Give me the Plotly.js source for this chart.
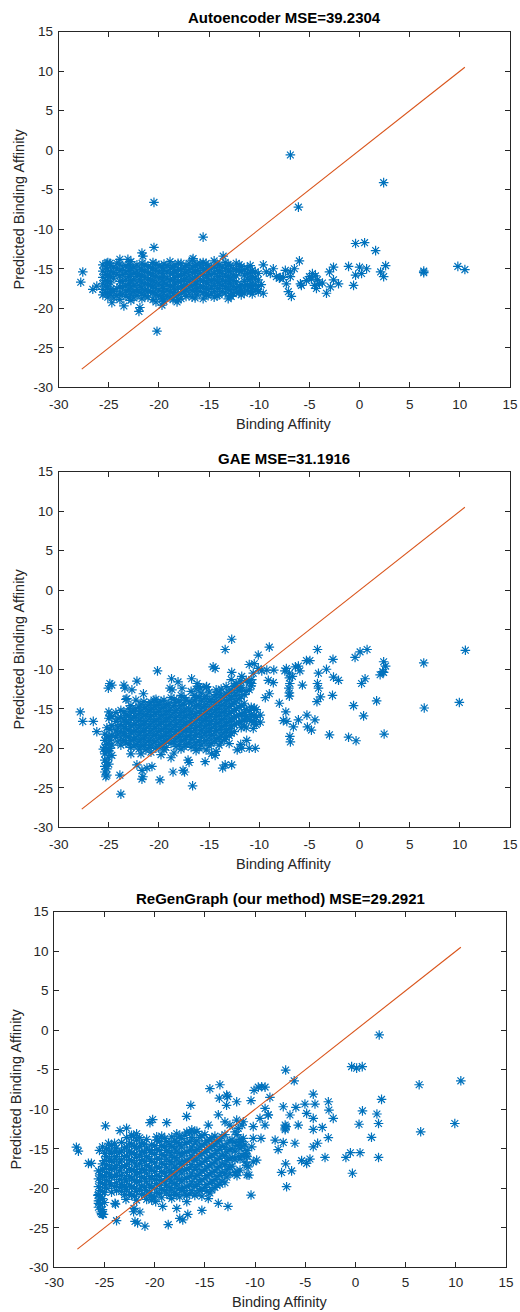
<!DOCTYPE html>
<html><head><meta charset="utf-8">
<script src="https://cdn.plot.ly/plotly-3.0.1.min.js"></script>
<style>html,body{margin:0;padding:0;background:#fff}#chart{width:520px;height:1312px}</style>
</head><body><div id="chart"></div>
<script>
const plotTitles = ["Autoencoder MSE=39.2304", "GAE MSE=31.1916", "ReGenGraph (our method) MSE=29.2921"];
const xTitle = "Binding Affinity";
const yTitle = "Predicted Binding Affinity";
const xTicks = [-30, -25, -20, -15, -10, -5, 0, 5, 10, 15];
const yTicks = [-30, -25, -20, -15, -10, -5, 0, 5, 10, 15];
const diag = [-27.7, 10.5];

// Autoencoder: dense columns [x, [y...]] and single points [x, y]
const aeCore = [
 [-25.6,[-14.5,-15.3,-16.1,-16.9,-17.6,-18.3]],[-25.3,[-14.9,-15.7,-16.5,-17.2,-18.0]],
 [-25.1,[-14.2,-15.0,-15.8,-16.6,-17.3,-18.0,-18.6]],[-24.8,[-14.6,-15.4,-16.0,-16.8,-17.6,-18.3]],
 [-24.5,[-14.8,-15.5,-16.2,-17.9,-18.7]],[-24.2,[-14.3,-15.0,-15.7,-17.5,-18.4]],
 [-23.9,[-14.4,-15.2,-15.9,-16.6,-17.3,-18.1,-18.9]],[-23.6,[-14.9,-15.7,-16.6,-17.4,-18.2]],
 [-23.3,[-14.6,-15.4,-16.3,-17.1,-17.8,-18.5]],[-23.0,[-14.5,-15.2,-16.0,-16.9,-17.7,-18.6]],
 [-22.8,[-14.1,-14.9,-15.7,-16.5,-17.3,-18.2,-19.0]],[-22.5,[-14.8,-15.6,-16.4,-17.1,-17.9,-18.7]],
 [-22.2,[-14.5,-15.3,-16.0,-16.8,-17.6,-18.4]],[-21.9,[-14.9,-15.7,-16.4,-17.2,-18.0]],
 [-21.7,[-14.3,-15.1,-15.9,-16.7,-17.4,-18.1,-18.8]],[-21.4,[-14.5,-15.3,-16.1,-16.9,-17.7,-18.4]],
 [-21.1,[-14.7,-15.5,-16.3,-17.0,-17.8,-18.6]],[-20.8,[-14.8,-15.6,-16.4,-17.1,-17.9]],
 [-20.6,[-14.2,-15.0,-15.8,-16.5,-17.2,-18.0,-18.9]],[-20.3,[-14.4,-15.2,-16.0,-16.8,-17.5,-18.3]],
 [-20.0,[-14.6,-15.4,-16.1,-16.9,-17.7,-18.4]],[-19.7,[-14.8,-15.6,-16.4,-17.2,-17.9,-18.8]],
 [-19.5,[-14.4,-15.2,-16.0,-16.7,-17.5,-18.2,-19.1]],[-19.2,[-14.6,-15.4,-16.2,-17.0,-17.7,-18.5]],
 [-18.9,[-14.1,-14.9,-15.6,-16.4,-17.2,-17.9,-18.6]],[-18.6,[-14.8,-15.6,-16.4,-17.2,-18.0]],
 [-18.4,[-14.5,-15.3,-16.1,-16.8,-17.6,-18.4]],[-18.1,[-14.3,-15.1,-15.9,-16.6,-17.4,-18.2,-18.9]],
 [-17.8,[-14.3,-15.1,-15.8,-16.6,-17.3,-18.1,-18.8]],[-17.5,[-14.8,-15.6,-16.4,-17.2,-17.9]],
 [-17.3,[-14.6,-15.4,-16.2,-17.0,-17.7,-18.5]],[-17.0,[-14.3,-15.1,-15.9,-16.6,-17.4,-18.2]],
 [-16.7,[-13.9,-14.8,-15.5,-16.3,-17.1,-17.8,-18.6]],[-16.4,[-14.6,-15.4,-16.2,-17.0,-17.8,-18.7]],
 [-16.2,[-14.4,-15.2,-16.0,-16.7,-17.5,-18.3]],[-15.9,[-14.8,-15.6,-16.4,-17.2,-17.9]],
 [-15.6,[-14.2,-15.0,-15.7,-16.5,-17.3,-18.0,-18.8]],[-15.3,[-14.3,-15.1,-15.9,-16.7,-17.5,-18.3]],
 [-15.1,[-14.6,-15.4,-16.2,-16.9,-17.6,-18.4]],[-14.8,[-14.9,-15.7,-16.5,-17.3,-18.1]],
 [-14.5,[-14.0,-14.8,-15.6,-16.4,-17.1,-17.9,-18.6]],[-14.2,[-14.4,-15.2,-16.0,-16.7,-17.5,-18.4]],
 [-14.0,[-14.5,-15.3,-16.0,-16.8,-17.5,-18.3]],[-13.7,[-14.8,-15.6,-16.4,-17.1,-17.9]],
 [-13.4,[-14.2,-15.0,-15.8,-16.6,-17.3,-18.1]],[-13.1,[-14.5,-15.3,-16.1,-16.9,-17.6]],
 [-12.9,[-14.6,-15.4,-16.2,-16.9,-17.7,-18.4]],[-12.6,[-15.0,-15.8,-16.5,-17.3,-18.1]],
 [-12.3,[-14.3,-15.1,-15.9,-16.7,-17.4,-18.0]],[-12.0,[-14.5,-15.2,-17.3,-18.0]],
 [-11.8,[-14.7,-15.4,-17.0,-17.7,-18.3]],[-11.5,[-15.1,-15.8,-16.6,-17.4,-18.1]],
 [-11.2,[-14.9,-15.6,-16.3,-17.1,-17.8]],[-10.9,[-14.6,-15.5,-16.3,-17.1,-17.9]],
 [-10.7,[-15.2,-16.0,-16.8,-17.5,-18.2]],[-10.4,[-15.4,-16.2,-17.0,-17.7]],
 [-10.1,[-15.6,-16.4,-17.2,-17.9]]
];
const aeSparse = [
 [-6.9,-0.6],[2.4,-4.1],[-20.5,-6.6],[-6.1,-7.2],[-15.6,-11.0],[-20.5,-12.3],[-0.4,-11.8],[0.5,-11.7],
 [1.6,-12.7],[-6.0,-14.0],[2.6,-14.6],[-1.1,-14.7],[6.4,-15.5],[6.4,-15.3],[9.8,-14.7],[10.5,-15.1],
 [2.1,-15.4],[2.4,-16.0],[0.0,-14.8],[0.7,-15.0],[0.2,-15.6],[-0.4,-15.8],[-0.6,-17.1],[-2.6,-14.8],
 [-3.0,-15.4],[-2.6,-16.4],[-2.1,-16.9],[-2.9,-17.3],[-3.3,-18.1],[-4.7,-15.6],[-5.0,-16.0],[-4.2,-16.4],
 [-4.0,-16.9],[-4.5,-17.1],[-4.3,-17.5],[-5.3,-16.5],[-5.8,-17.1],[-5.9,-16.9],[-3.7,-16.8],[-4.4,-15.9],
 [-4.8,-16.3],[-6.9,-16.0],[-7.3,-16.9],[-7.1,-17.9],[-6.8,-18.5],[-6.5,-15.0],[-6.9,-15.4],[-7.4,-15.2],
 [-8.6,-15.0],[-8.9,-15.6],[-8.3,-16.0],[-7.9,-16.1],[-9.3,-15.4],[-9.6,-14.5],[-8.0,-16.2],[-7.6,-16.1],
 [-27.6,-15.4],[-27.8,-16.7],[-26.6,-17.6],[-26.2,-17.2],[-21.7,-13.0],[-21.6,-13.4],[-23.1,-13.8],
 [-23.9,-13.8],[-25.2,-14.3],[-24.9,-14.3],[-20.2,-22.9],[-22.0,-20.4],[-21.9,-19.9],[-24.7,-19.3],
 [-23.5,-19.7],[-13.6,-13.4],[-16.6,-13.7],[-15.9,-14.3],[-19.6,-18.8],[-18.6,-18.9],[-19.7,-19.6],
 [-18.2,-19.2],[-20.3,-19.2],[-12.8,-18.5],[-13.1,-18.8],[-9.6,-18.1],[-10.2,-17.6],[-9.8,-17.0]
];

// GAE
const gaeCore = [
 [-25.4,[-18.2,-19.0,-19.9,-20.7,-21.5,-22.3,-23.0]],[-25.2,[-17.4,-18.7,-19.5,-20.4,-21.8,-22.6,-23.4]],
 [-25.0,[-15.4,-16.2,-18.5,-19.4,-20.3,-21.2,-22.0]],[-24.9,[-15.9,-17.6,-19.0,-20.0]],
 [-24.7,[-16.0,-17.1,-18.4,-19.6,-20.9]],[-24.3,[-15.5,-16.6,-17.8,-18.6]],[-24.1,[-16.2,-17.3,-18.2,-19.2]],
 [-23.8,[-15.2,-16.1,-17.0,-17.9,-18.7,-19.6]],[-23.5,[-15.4,-16.4,-17.3,-18.1,-19.0]],
 [-23.3,[-13.8,-15.8,-16.7,-17.5,-18.4,-19.3]],[-23.0,[-15.0,-15.9,-16.8,-17.7,-18.6,-19.5]],
 [-22.8,[-14.6,-15.4,-16.3,-17.2,-18.1,-19.0,-19.9]],[-22.5,[-15.3,-16.1,-17.0,-17.9,-18.8,-19.7]],
 [-22.3,[-13.9,-15.0,-15.9,-16.8,-17.7,-18.6,-19.5]],[-22.0,[-14.8,-15.6,-16.5,-17.4,-18.3,-19.2,-20.1]],
 [-21.8,[-14.4,-15.3,-16.2,-17.1,-18.0,-18.9,-19.8,-20.7]],[-21.5,[-14.1,-15.0,-15.9,-16.9,-17.8,-18.7,-19.6]],
 [-21.3,[-14.8,-15.7,-16.6,-17.5,-18.4,-19.3,-20.2]],[-21.0,[-14.5,-15.4,-16.3,-17.2,-18.1,-19.0,-19.9]],
 [-20.8,[-14.2,-15.1,-16.0,-16.9,-17.8,-18.7,-19.6,-20.5]],[-20.5,[-13.9,-14.8,-15.7,-16.6,-17.5,-18.4,-19.3]],
 [-20.3,[-13.8,-14.6,-15.5,-16.4,-17.3,-18.2,-19.1,-20.0]],[-20.0,[-14.4,-15.3,-16.2,-17.0,-17.9,-18.8,-19.8]],
 [-19.8,[-14.1,-15.0,-15.9,-16.8,-17.7,-18.6,-19.5,-20.8]],[-19.5,[-13.9,-14.8,-15.7,-16.6,-17.5,-18.4,-19.3,-20.2]],
 [-19.3,[-14.5,-15.4,-16.3,-17.2,-18.1,-19.0,-19.9]],[-19.0,[-14.3,-15.2,-16.1,-17.0,-17.9,-18.8]],
 [-18.8,[-13.6,-14.9,-15.8,-16.7,-17.6,-18.5,-19.4,-21.2]],[-18.5,[-13.8,-14.6,-15.5,-16.4,-17.3,-18.2,-19.2,-20.6]],
 [-18.3,[-14.2,-15.2,-16.1,-17.0,-17.9,-18.8,-19.8]],[-18.0,[-14.0,-14.9,-15.8,-16.7,-17.6,-18.5,-19.5]],
 [-17.8,[-13.3,-14.6,-15.5,-16.4,-17.3,-18.2,-19.1,-20.1]],[-17.5,[-13.6,-14.4,-15.3,-16.1,-17.0,-17.9,-18.9,-19.8]],
 [-17.3,[-13.9,-15.0,-15.9,-16.8,-17.7,-18.6,-19.5]],[-17.0,[-14.1,-15.0,-15.7,-16.6,-17.5,-18.4,-19.3]],
 [-16.8,[-12.8,-14.3,-15.3,-16.2,-17.1,-18.0,-18.9,-19.9]],[-16.5,[-13.3,-14.0,-14.9,-15.9,-16.8,-17.7,-18.6,-19.6]],
 [-16.3,[-12.5,-13.6,-14.6,-15.6,-16.5,-17.4,-18.3,-19.3,-20.3]],[-16.0,[-12.2,-13.5,-14.5,-15.4,-16.3,-17.2,-18.1,-19.1,-20.0]],
 [-15.8,[-13.0,-14.0,-15.0,-15.9,-16.8,-17.7,-18.6,-19.6]],[-15.5,[-13.7,-14.7,-15.6,-16.5,-17.4,-18.3,-19.3]],
 [-15.3,[-12.3,-13.4,-14.4,-15.3,-16.2,-17.1,-18.0,-19.0,-20.2]],[-15.0,[-12.9,-14.1,-15.1,-16.0,-16.9,-17.8,-18.7,-19.7]],
 [-14.8,[-13.8,-14.8,-15.7,-16.6,-17.5,-18.4,-19.4]],[-14.5,[-13.5,-14.5,-15.4,-16.3,-17.2,-18.1,-19.1]],
 [-14.3,[-12.6,-13.2,-14.2,-15.1,-16.0,-16.9,-17.8,-18.8,-20.4]],[-14.0,[-12.9,-13.9,-14.9,-15.8,-16.7,-17.6,-18.6,-19.6]],
 [-13.8,[-12.5,-13.6,-14.6,-15.5,-16.4,-17.3,-18.3,-19.2]],[-13.5,[-13.3,-14.3,-15.3,-16.2,-17.1,-18.0,-18.9]],
 [-13.3,[-12.2,-13.1,-14.0,-15.0,-15.9,-16.8,-17.7,-18.6]],[-13.0,[-12.9,-13.8,-14.7,-15.6,-16.6,-17.5,-18.4,-19.4]],
 [-12.8,[-12.6,-13.5,-14.4,-15.4,-16.3,-17.2,-18.1]],[-12.5,[-12.2,-13.3,-14.3,-15.2,-16.1,-17.0,-17.9]],
 [-12.3,[-11.8,-13.0,-14.0,-15.0,-15.9,-16.8]],[-12.0,[-12.7,-13.7,-14.8,-15.8,-16.8]],
 [-11.8,[-12.4,-13.5,-14.6,-15.6,-16.6,-17.4]],[-11.5,[-13.2,-14.3,-15.5,-16.4,-17.2]],
 [-11.3,[-11.4,-12.8,-15.1,-16.0]],[-11.0,[-11.7,-12.6,-15.2,-16.3]],[-10.8,[-12.1,-14.8,-15.7,-16.6]],
 [-10.5,[-14.9,-15.8,-16.6]],[-10.3,[-15.1,-16.1,-17.0]],[-9.9,[-15.8,-16.7]]
];
const gaeSparse = [
 [-12.75,-6.2],[-13.4,-7.5],[-9.0,-7.2],[-10.1,-8.2],[-10.5,-9.3],[-4.2,-7.5],[-4.95,-8.9],[-5.3,-8.9],
 [-0.45,-8.5],[0.05,-7.8],[0.75,-7.5],[2.4,-9.05],[2.6,-9.6],[2.4,-10.4],[2.05,-10.7],[2.3,-10.3],
 [6.4,-9.2],[10.55,-7.6],[9.95,-14.2],[6.45,-14.9],[2.45,-18.2],[1.7,-14.0],[0.4,-15.9],[-0.6,-14.6],
 [-0.35,-19.05],[-1.1,-18.6],[-3.0,-18.3],[0.2,-11.8],[0.55,-11.2],[-2.65,-8.75],[-3.3,-10.0],[-2.6,-11.0],
 [-2.1,-11.4],[-2.7,-13.3],[-4.1,-10.5],[-4.2,-11.8],[-4.1,-12.4],[-3.9,-13.5],[-4.25,-14.1],[-4.45,-16.4],
 [-4.8,-17.7],[-5.25,-15.8],[-5.2,-17.3],[-5.7,-12.0],[-5.95,-10.2],[-6.1,-9.6],[-6.4,-9.7],[-6.6,-17.3],
 [-6.1,-16.4],[-6.95,-18.5],[-6.9,-19.2],[-7.3,-9.9],[-7.0,-10.5],[-7.0,-11.1],[-6.95,-11.8],[-7.05,-12.4],
 [-7.0,-13.0],[-7.0,-13.4],[-7.45,-10.2],[-6.7,-10.9],[-7.35,-15.4],[-7.6,-16.5],[-7.25,-16.6],[-8.0,-14.3],
 [-8.6,-11.7],[-8.55,-10.1],[-9.25,-10.1],[-9.4,-13.6],[-9.0,-13.1],[-10.4,-20.0],[-11.25,-19.0],[-11.75,-20.0],
 [-11.3,-17.4],[-11.4,-16.2],[-10.6,-17.5],[-12.75,-22.1],[-13.65,-22.5],[-14.4,-20.9],[-14.75,-20.7],
 [-15.4,-21.7],[-16.65,-24.75],[-17.1,-21.5],[-17.0,-21.8],[-17.6,-22.8],[-17.45,-23.0],[-18.6,-23.0],
 [-19.9,-24.0],[-21.6,-23.6],[-21.7,-23.9],[-21.7,-22.8],[-21.2,-22.5],[-20.7,-22.3],[-22.2,-22.1],
 [-23.8,-25.8],[-23.9,-23.4],[-25.3,-23.6],[-25.55,-20.1],[-22.8,-20.7],[-27.85,-15.4],[-27.6,-16.6],
 [-26.55,-16.6],[-26.2,-17.9],[-25.05,-12.4],[-24.9,-11.8],[-24.7,-12.0],[-23.5,-12.0],[-23.4,-12.4],
 [-22.7,-12.6],[-22.2,-11.5],[-21.55,-13.1],[-23.2,-13.7],[-20.15,-10.2],[-18.75,-11.2],[-18.1,-11.6],
 [-16.75,-11.2],[-14.6,-9.7],[-14.4,-9.9],[-12.75,-10.4],[-11.0,-9.4],[-10.1,-9.9],[-11.75,-10.9],
 [-10.75,-11.8],[-10.6,-10.5],[-9.75,-10.2],[-12.8,-11.3],[-11.9,-11.5],[-12.45,-12.1],[-11.85,-12.3],
 [-10.75,-11.3],[-9.1,-11.4],[-11.85,-19.5],[-12.2,-20.2],[-11.0,-20.0],[-13.4,-22.1],[-17.7,-12.4],
 [-16.2,-11.8],[-15.9,-12.4],[-15.25,-12.2],[-18.9,-12.4],[-18.7,-12.6]
];

// ReGenGraph
const rgCore = [
 [-25.6,[-17.8,-18.8,-19.8,-20.8,-21.6,-22.4]],[-25.4,[-18.3,-19.3,-20.3,-21.1,-22.0,-23.0]],
 [-25.2,[-16.9,-17.6,-18.5,-19.4,-20.4,-21.3,-22.7,-23.3]],[-25.0,[-15.6,-16.5,-17.5,-18.5,-19.5,-20.5,-21.8]],
 [-24.8,[-15.0,-16.0,-17.0,-18.0,-19.0,-20.0]],[-24.5,[-15.3,-16.3,-17.3,-18.3,-19.3]],
 [-24.3,[-14.6,-15.6,-16.6,-17.6,-18.6,-19.6,-20.5]],[-24.0,[-14.3,-15.3,-16.3,-17.4,-18.5,-19.8]],
 [-23.8,[-14.9,-16.0,-17.1,-18.2,-19.3,-20.3]],[-23.5,[-15.5,-16.7,-17.8,-18.9,-19.9]],
 [-23.3,[-14.2,-15.3,-16.4,-17.4,-18.4,-19.5,-20.4]],[-23.0,[-14.9,-16.0,-17.2,-18.8,-19.8,-20.8]],
 [-22.8,[-13.6,-14.8,-15.9,-17.0,-18.0,-19.1,-20.1]],[-22.5,[-14.3,-15.3,-16.4,-17.5,-18.5,-19.6,-20.6]],
 [-22.3,[-13.3,-14.4,-15.5,-16.5,-17.6,-18.7,-19.8,-20.9]],[-22.0,[-14.7,-15.7,-16.8,-17.9,-19.0,-20.0,-21.0]],
 [-21.8,[-13.9,-15.0,-16.1,-17.2,-18.3,-19.3,-20.4,-21.5]],[-21.5,[-13.6,-14.7,-15.8,-16.9,-18.0,-19.1,-20.1]],
 [-21.3,[-14.3,-15.4,-16.5,-17.6,-18.6,-19.7,-20.8]],[-21.0,[-14.4,-15.5,-16.6,-17.7,-18.8,-19.9,-20.9]],
 [-20.8,[-13.8,-14.9,-16.0,-17.1,-18.1,-19.2,-20.3,-21.4]],[-20.5,[-15.2,-16.3,-17.4,-18.5,-19.6,-20.6]],
 [-20.3,[-14.5,-15.5,-16.6,-17.7,-18.8,-19.9,-21.0]],[-20.0,[-14.6,-15.7,-16.8,-17.9,-18.9,-20.0,-21.1]],
 [-19.8,[-13.9,-15.1,-16.2,-17.3,-18.4,-19.4,-20.5]],[-19.5,[-14.1,-15.2,-16.3,-17.4,-18.5,-19.6,-20.7]],
 [-19.3,[-13.4,-14.6,-15.7,-16.8,-17.9,-19.0,-20.1,-21.2]],[-19.0,[-13.7,-14.8,-15.9,-17.0,-18.1,-19.2,-20.3]],
 [-18.8,[-14.1,-15.2,-16.3,-17.4,-18.5,-19.6,-20.6]],[-18.5,[-14.4,-15.5,-16.6,-17.7,-18.8,-19.9,-20.9]],
 [-18.3,[-13.5,-14.7,-15.8,-16.9,-18.0,-19.1,-20.2,-21.3]],[-18.0,[-13.9,-15.0,-16.1,-17.2,-18.3,-19.4,-20.5]],
 [-17.8,[-13.1,-14.2,-15.3,-16.4,-17.5,-18.6,-19.7,-20.8]],[-17.5,[-13.4,-14.5,-15.6,-16.7,-17.8,-18.9,-20.0,-21.1]],
 [-17.3,[-13.7,-14.8,-15.9,-17.0,-18.1,-19.2,-20.3]],[-17.0,[-13.3,-14.4,-15.5,-16.6,-17.7,-18.8,-19.9,-20.6]],
 [-16.8,[-12.9,-14.2,-15.4,-16.5,-17.6,-18.7,-19.8,-20.9]],[-16.5,[-13.0,-14.1,-15.2,-16.3,-17.4,-18.5,-19.6,-20.7]],
 [-16.3,[-12.6,-13.6,-14.8,-15.9,-17.0,-18.1,-19.2,-20.3]],[-16.0,[-12.9,-14.3,-15.4,-16.5,-17.6,-18.7,-19.8,-20.9]],
 [-15.8,[-12.8,-14.0,-15.1,-16.2,-17.3,-18.4,-19.5,-20.6]],[-15.5,[-13.6,-14.8,-15.9,-17.0,-18.1,-19.2,-20.3]],
 [-15.3,[-13.3,-14.5,-15.6,-16.7,-17.8,-18.9,-20.0,-21.0]],[-15.0,[-13.2,-14.4,-15.5,-16.6,-17.7,-18.8,-19.9]],
 [-14.8,[-14.0,-15.1,-16.2,-17.3,-18.4,-19.5,-20.4]],[-14.5,[-13.9,-15.0,-16.1,-17.2,-18.3,-19.4,-20.6]],
 [-14.3,[-13.6,-14.7,-15.8,-16.9,-18.0,-19.1,-20.2]],[-14.0,[-13.4,-14.5,-15.6,-16.7,-17.8,-18.9,-19.9]],
 [-13.8,[-14.1,-15.2,-16.3,-17.4,-18.5,-19.6]],[-13.5,[-14.0,-15.1,-16.2,-17.3,-18.4,-19.5]],
 [-13.3,[-13.5,-14.7,-15.8,-16.9,-18.0,-19.1]],[-13.0,[-13.2,-14.8,-15.9,-17.0,-18.1,-19.3]],
 [-12.8,[-14.3,-15.4,-16.5,-17.6,-18.6]],[-12.5,[-14.0,-15.1,-16.2,-17.3,-18.2]],
 [-12.3,[-13.9,-15.0,-16.1,-17.2]],[-12.0,[-14.2,-15.3,-16.4,-18.0]],[-11.8,[-13.2,-14.6,-17.9,-18.4]],
 [-11.5,[-13.8,-15.0,-16.3]],[-11.3,[-12.0,-14.1,-15.9]],[-11.0,[-14.5,-15.6,-16.7]],[-10.8,[-15.2,-16.0,-17.1]]
];
const rgSparse = [
 [2.37,-0.6],[0.12,-4.8],[-0.38,-4.6],[0.68,-4.6],[-6.95,-5.04],[-6.1,-6.4],[6.35,-6.9],[10.5,-6.4],
 [2.6,-8.75],[-10.1,-7.6],[-9.68,-7.2],[-9.34,-7.15],[-9.0,-7.2],[-8.52,-8.5],[-12.73,-8.4],[-11.83,-9.05],
 [-10.4,-8.9],[-9.0,-9.9],[-8.7,-10.7],[-7.19,-9.68],[-6.52,-10.73],[-5.93,-9.76],[-5.03,-9.34],[-4.2,-8.08],
 [-4.03,-9.34],[-4.86,-10.52],[-4.2,-11.15],[-2.7,-9.05],[-2.64,-10.1],[-2.21,-11.15],[-3.3,-12.3],
 [-4.2,-12.55],[-7.0,-12.0],[-7.0,-12.4],[-7.0,-12.6],[-6.9,-12.2],[-5.7,-12.0],[-6.03,-14.3],[-7.19,-14.2],
 [-7.7,-15.1],[-8.0,-13.9],[-4.2,-14.75],[-3.77,-14.3],[-2.7,-13.6],[-3.03,-16.1],[-5.36,-16.5],
 [-4.86,-16.85],[-4.53,-16.3],[-6.95,-16.9],[-7.36,-18.0],[-6.36,-17.8],[-6.86,-19.8],[-0.95,-16.1],
 [-0.5,-15.5],[0.46,-15.5],[-0.3,-18.1],[0.36,-11.9],[0.7,-10.2],[2.14,-10.6],[2.3,-11.8],[1.6,-13.55],
 [2.3,-16.1],[6.5,-12.85],[9.9,-11.8],[-10.4,-20.86],[-12.7,-22.3],[-11.83,-11.37],[-11.17,-11.58],
 [-11.67,-12.42],[-12.0,-12.85],[-10.18,-12.2],[-9.51,-11.15],[-9.01,-12.0],[-8.68,-10.73],[-9.41,-13.68],
 [-10.18,-13.68],[-11.17,-13.68],[-11.6,-14.24],[-11.33,-14.75],[-10.33,-14.75],[-11.67,-16.0],
 [-10.84,-15.8],[-10.18,-16.65],[-9.84,-16.43],[-10.68,-17.28],[-11.5,-17.7],[-10.6,-18.33],[-10.8,-18.3],
 [-13.5,-6.9],[-14.5,-7.4],[-12.83,-8.2],[-13.56,-8.6],[-12.84,-9.5],[-16.4,-9.5],[-16.82,-10.9],
 [-13.66,-10.7],[-14.66,-12.0],[-13.0,-11.6],[-12.5,-12.0],[-20.2,-11.3],[-20.47,-11.7],[-18.8,-11.7],
 [-19.8,-13.5],[-24.9,-12.1],[-22.8,-12.4],[-23.45,-12.7],[-22.1,-13.4],[-21.8,-13.1],[-27.8,-14.8],
 [-27.6,-15.3],[-26.6,-16.85],[-26.3,-16.85],[-25.5,-15.2],[-25.2,-14.75],[-24.6,-14.3],[-23.95,-21.9],
 [-23.8,-24.1],[-25.3,-23.2],[-25.1,-23.3],[-25.6,-21.9],[-25.65,-20.9],[-22.86,-21.4],[-22.06,-22.55],
 [-21.47,-23.0],[-21.96,-24.2],[-21.7,-24.4],[-20.97,-24.8],[-18.65,-24.6],[-17.5,-23.8],[-17.2,-24.0],
 [-16.7,-23.3],[-15.3,-22.8],[-16.8,-21.7],[-17.8,-22.55],[-19.2,-22.3],[-20.3,-21.5],[-19.9,-21.7],
 [-13.66,-21.9],[-14.66,-21.3],[-23.9,-22.0],[-22.1,-22.97]
];

function toXY(core, sparse) {
  const xs = [], ys = [];
  core.forEach(c => c[1].forEach(v => { xs.push(c[0]); ys.push(v); }));
  sparse.forEach(p => { xs.push(p[0]); ys.push(p[1]); });
  return {x: xs, y: ys};
}

const sets = [toXY(aeCore, aeSparse), toXY(gaeCore, gaeSparse), toXY(rgCore, rgSparse)];
const blue = '#0072BD', orange = '#D95319', axisCol = '#262626';
const fontFam = 'Liberation Sans, Arial, Helvetica, sans-serif';

const data = [];
sets.forEach((s, i) => {
  const n = i === 0 ? '' : String(i + 1);
  data.push({type: 'scatter', mode: 'markers', x: s.x, y: s.y, xaxis: 'x' + n, yaxis: 'y' + n,
    marker: {symbol: 'asterisk-open', size: 8, color: blue, line: {color: blue, width: 1.2}},
    hoverinfo: 'skip', showlegend: false});
  data.push({type: 'scatter', mode: 'lines', x: diag, y: diag, xaxis: 'x' + n, yaxis: 'y' + n,
    line: {color: orange, width: 1.1}, hoverinfo: 'skip', showlegend: false});
});

const H = 1312, W = 520;
const boxes = [
  {l: 58.7, r: 510, t: 31.7, b: 387.3, title: 18, xt: 424, yt: 18, xso: 4},
  {l: 58.7, r: 510, t: 471.7, b: 827.3, title: 458, xt: 864, yt: 18, xso: 4},
  {l: 54.3, r: 506, t: 911.7, b: 1267.3, title: 898, xt: 1302, yt: 15, xso: 2}
];
function axX(b, anchor) {
  return {domain: [b.l / W, b.r / W], range: [-30, 15], tickvals: xTicks, ticktext: xTicks.map(String),
    ticks: 'inside', ticklen: 5, tickcolor: axisCol, tickwidth: 1, showline: true, linecolor: axisCol,
    linewidth: 1, mirror: 'ticks', showgrid: false, zeroline: false, anchor: anchor, ticklabelstandoff: b.xso,
    tickfont: {family: fontFam, size: 13.5, color: axisCol}};
}
function axY(b, anchor) {
  return {domain: [1 - b.b / H, 1 - b.t / H], range: [-30, 15], tickvals: yTicks, ticktext: yTicks.map(String),
    ticks: 'inside', ticklen: 5, tickcolor: axisCol, tickwidth: 1, showline: true, linecolor: axisCol,
    linewidth: 1, mirror: 'ticks', showgrid: false, zeroline: false, anchor: anchor, ticklabelstandoff: 2,
    tickfont: {family: fontFam, size: 13.5, color: axisCol}};
}
const layout = {width: W, height: H, margin: {l: 0, r: 0, t: 0, b: 0}, paper_bgcolor: '#fff', plot_bgcolor: '#fff',
  showlegend: false, annotations: []};
boxes.forEach((b, i) => {
  const n = i === 0 ? '' : String(i + 1);
  layout['xaxis' + n] = axX(b, 'y' + n);
  layout['yaxis' + n] = axY(b, 'x' + n);
  const cx = (b.l + b.r) / 2 / W;
  layout.annotations.push({text: '<b>' + plotTitles[i] + '</b>', xref: 'paper', yref: 'paper', x: cx, y: 1 - b.title / H,
    xanchor: 'center', yanchor: 'middle', showarrow: false, font: {family: fontFam, size: 15, color: '#000'}});
  layout.annotations.push({text: xTitle, xref: 'paper', yref: 'paper', x: cx, y: 1 - b.xt / H,
    xanchor: 'center', yanchor: 'middle', showarrow: false, font: {family: fontFam, size: 14.5, color: axisCol}});
  layout.annotations.push({text: yTitle, xref: 'paper', yref: 'paper', x: b.yt / W, y: 1 - (b.t + b.b) / 2 / H,
    xanchor: 'center', yanchor: 'middle', textangle: -90, showarrow: false, font: {family: fontFam, size: 14.5, color: axisCol}});
});
Plotly.newPlot('chart', data, layout, {staticPlot: true, displayModeBar: false});
</script></body></html>
